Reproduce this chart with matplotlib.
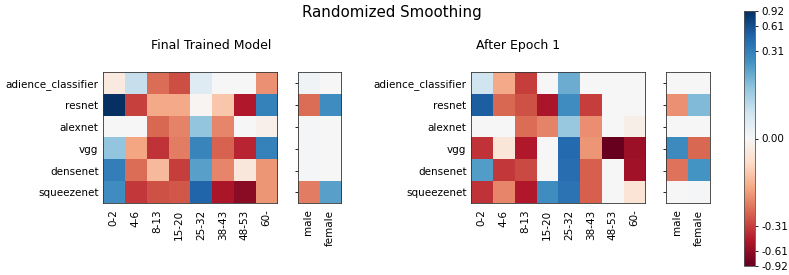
"""
Randomized smoothing bias heatmaps: age and gender groups per model,
final trained model vs. after epoch 1.
"""

import numpy as np
import matplotlib

matplotlib.use("Agg")
import matplotlib.pyplot as plt
from matplotlib.colors import SymLogNorm

# ---------------------------------------------------------------- data
MODELS = ["adience_classifier", "resnet", "alexnet", "vgg", "densenet", "squeezenet"]
AGES = ["0-2", "4-6", "8-13", "15-20", "25-32", "38-43", "48-53", "60-"]
GENDERS = ["male", "female"]

final_age = [
    [-0.03, 0.07, -0.20, -0.27, 0.04, 0.0, 0.0, -0.14],
    [0.92, -0.31, -0.115, -0.115, -0.005, -0.085, -0.46, 0.30],
    [0.0, 0.0, -0.21, -0.16, 0.12, -0.155, 0.0, -0.015],
    [0.12, -0.12, -0.35, -0.17, 0.28, -0.22, -0.40, 0.30],
    [0.32, -0.20, -0.10, -0.32, 0.19, -0.155, -0.035, -0.135],
    [0.245, -0.33, -0.26, -0.245, 0.46, -0.49, -0.66, -0.135],
]
final_gender = [
    [0.01, 0.0],
    [-0.20, 0.25],
    [0.005, 0.0],
    [0.005, 0.0],
    [0.005, 0.0],
    [-0.17, 0.19],
]
epoch1_age = [
    [0.06, -0.115, -0.32, 0.0, 0.16, 0.0, 0.0, 0.0],
    [0.50, -0.21, -0.26, -0.49, 0.245, -0.32, 0.0, 0.0],
    [0.0, 0.0, -0.20, -0.16, 0.115, -0.145, 0.0, -0.018],
    [-0.35, -0.037, -0.46, 0.0, 0.43, -0.135, -0.92, -0.56],
    [0.20, -0.33, -0.28, 0.0, 0.40, -0.23, 0.0, -0.53],
    [-0.35, -0.155, -0.46, 0.245, 0.37, -0.23, 0.0, -0.043],
]
epoch1_gender = [
    [0.0, 0.0],
    [-0.14, 0.135],
    [0.0, 0.0],
    [0.26, -0.21],
    [-0.19, 0.23],
    [0.0, 0.005],
]
CBAR_TICKS = [-0.92, -0.61, -0.31, 0.0, 0.31, 0.61, 0.92]

# ---------------------------------------------------------------- figure
W, H, DPI = 789, 275, 75
fig = plt.figure(figsize=(W / DPI, H / DPI), dpi=DPI)

vmax = np.abs(np.array(final_age + epoch1_age)).max()
norm = SymLogNorm(linthresh=0.14, linscale=1.0, vmin=-vmax, vmax=vmax, base=np.e)
CMAP = "RdBu"


def px_axes(x0, y0, x1, y1):
    """axes from pixel box (top-left origin)"""
    return fig.add_axes([x0 / W, 1 - y1 / H, (x1 - x0) / W, (y1 - y0) / H])


def draw_pair(age, gender, x_age, x_gen, title, title_x):
    y0, y1 = 72.3, 203.3
    ax = px_axes(x_age, y0, x_age + 174.6, y1)
    ax.imshow(np.array(age), cmap=CMAP, norm=norm, aspect="auto",
              interpolation="nearest")
    ax.set_xticks(range(len(AGES)))
    ax.set_xticklabels(AGES, rotation=90)
    ax.set_yticks(range(len(MODELS)))
    ax.set_yticklabels(MODELS)
    ax.tick_params(axis="y", length=0, pad=4)
    ax.tick_params(axis="x", length=0, pad=6)

    axg = px_axes(x_gen, y0, x_gen + 43.6, y1)
    axg.imshow(np.array(gender), cmap=CMAP, norm=norm, aspect="auto",
               interpolation="nearest")
    axg.set_xticks(range(len(GENDERS)))
    axg.set_xticklabels(GENDERS, rotation=90)
    axg.set_yticks(range(len(MODELS)))
    axg.set_yticklabels([])
    axg.tick_params(axis="y", length=2.5, width=0.8)
    axg.tick_params(axis="x", length=0, pad=6)

    for a in (ax, axg):
        for s in a.spines.values():
            s.set_color("#333333")
    fig.text(title_x / W, 1 - 45.3 / H, title, ha="center", va="center",
             fontsize=12)


draw_pair(final_age, final_gender, 102.7, 297.5, "Final Trained Model", 211.3)
draw_pair(epoch1_age, epoch1_gender, 470.7, 666.0, "After Epoch 1", 518.5)

fig.text(392 / W, 1 - 12.7 / H, "Randomized Smoothing", ha="center",
         va="center", fontsize=14.4)

# colorbar
cax = px_axes(744, 11, 755, 266)
sm = plt.cm.ScalarMappable(norm=norm, cmap=CMAP)
cbar = fig.colorbar(sm, cax=cax)
cbar.set_ticks(CBAR_TICKS, labels=[f"{t:.2f}" for t in CBAR_TICKS])
cbar.ax.minorticks_off()
cbar.ax.tick_params(length=2.5, width=0.8)
cbar.outline.set_edgecolor("#555555")

plt.savefig("out.png", dpi=DPI)
